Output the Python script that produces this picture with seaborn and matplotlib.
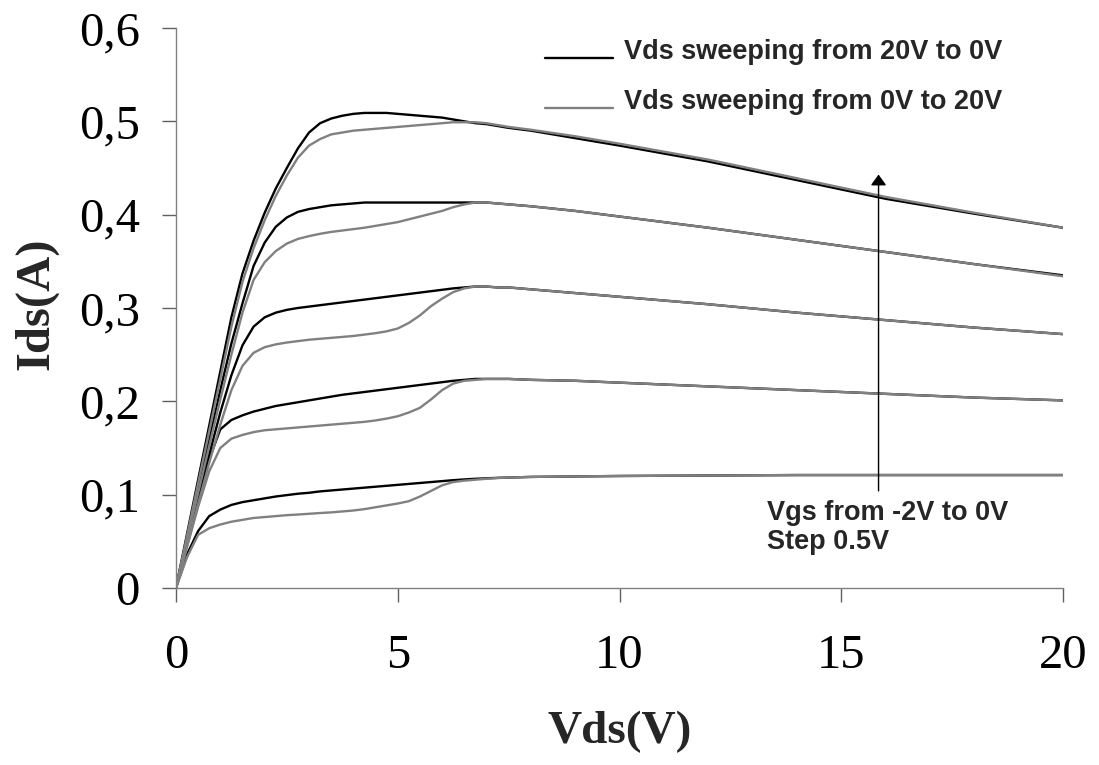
import numpy as np
import pandas as pd
import matplotlib
matplotlib.use("Agg")
import matplotlib.pyplot as plt
from matplotlib.lines import Line2D
from matplotlib.legend_handler import HandlerLine2D
import seaborn as sns

# Drain voltage grid (V)
vds = [0, 0.25, 0.5, 0.75, 1.0, 1.25, 1.5, 1.75, 2.0, 2.25, 2.5, 2.75, 3.0, 3.25, 3.5, 3.75,
       4.0, 4.25, 4.5, 4.75, 5.0, 5.25, 5.5, 5.75, 6.0, 6.25, 6.5, 6.75, 7.0, 7.25, 7.5,
       8, 9, 10, 12, 14, 16, 18, 20]

# Drain current (A), Vds swept from 20 V down to 0 V; Vgs = 0, -0.5, -1, -1.5, -2 V
down_vgs0 = [0, 0.058, 0.116, 0.174, 0.232, 0.290, 0.337, 0.372, 0.402, 0.428, 0.450, 0.471, 0.488,
             0.498, 0.503, 0.506, 0.508, 0.509, 0.509, 0.509, 0.508, 0.507, 0.506, 0.505, 0.504,
             0.502, 0.500, 0.498, 0.497, 0.495, 0.493, 0.490, 0.482, 0.474, 0.457, 0.437, 0.417,
             0.401, 0.386]
down_vgs1 = [0, 0.053, 0.106, 0.159, 0.212, 0.262, 0.305, 0.345, 0.370, 0.387, 0.397, 0.403, 0.406,
             0.408, 0.410, 0.411, 0.412, 0.413, 0.413, 0.413, 0.413, 0.413, 0.413, 0.413, 0.413,
             0.413, 0.413, 0.413, 0.413, 0.412, 0.411, 0.409, 0.404, 0.398, 0.386, 0.373, 0.360,
             0.347, 0.335]
down_vgs2 = [0, 0.048, 0.096, 0.143, 0.188, 0.228, 0.260, 0.280, 0.290, 0.295, 0.298, 0.300, 0.3015,
             0.303, 0.3045, 0.306, 0.3075, 0.309, 0.3105, 0.312, 0.3135, 0.315, 0.3165, 0.318, 0.3195,
             0.321, 0.322, 0.323, 0.323, 0.322, 0.322, 0.320, 0.316, 0.312, 0.304, 0.295, 0.287,
             0.279, 0.272]
down_vgs3 = [0, 0.047, 0.094, 0.138, 0.170, 0.180, 0.185, 0.189, 0.192, 0.195, 0.197, 0.199, 0.201,
             0.203, 0.205, 0.207, 0.2085, 0.210, 0.2115, 0.213, 0.2145, 0.216, 0.2175, 0.219, 0.2205,
             0.222, 0.223, 0.224, 0.224, 0.224, 0.224, 0.223, 0.222, 0.220, 0.216, 0.212, 0.208,
             0.204, 0.201]
down_vgs4 = [0, 0.036, 0.061, 0.077, 0.084, 0.089, 0.092, 0.094, 0.096, 0.098, 0.0995, 0.101, 0.102,
             0.1035, 0.1045, 0.1055, 0.1065, 0.1075, 0.1085, 0.1095, 0.1105, 0.1115, 0.1125, 0.1135,
             0.1145, 0.1155, 0.1163, 0.117, 0.1175, 0.118, 0.1183, 0.119, 0.1195, 0.120, 0.1205,
             0.121, 0.121, 0.121, 0.121]

# Drain current (A), Vds swept from 0 V up to 20 V
up_vgs0 = [0, 0.056, 0.112, 0.168, 0.224, 0.280, 0.328, 0.364, 0.394, 0.420, 0.442, 0.461, 0.474,
           0.481, 0.486, 0.488, 0.490, 0.491, 0.492, 0.493, 0.494, 0.495, 0.496, 0.497, 0.498,
           0.499, 0.499, 0.499, 0.498, 0.496, 0.494, 0.491, 0.484, 0.476, 0.459, 0.439, 0.419,
           0.402, 0.386]
up_vgs1 = [0, 0.051, 0.102, 0.152, 0.202, 0.250, 0.295, 0.330, 0.349, 0.361, 0.369, 0.374, 0.377,
           0.3795, 0.3815, 0.383, 0.3845, 0.386, 0.388, 0.390, 0.392, 0.395, 0.398, 0.401, 0.404,
           0.408, 0.411, 0.413, 0.413, 0.412, 0.411, 0.409, 0.404, 0.398, 0.386, 0.373, 0.360,
           0.347, 0.334]
up_vgs2 = [0, 0.045, 0.090, 0.134, 0.175, 0.212, 0.238, 0.252, 0.258, 0.261, 0.263, 0.2645, 0.266,
           0.267, 0.268, 0.269, 0.270, 0.2715, 0.273, 0.275, 0.278, 0.284, 0.292, 0.302, 0.310,
           0.317, 0.321, 0.323, 0.323, 0.322, 0.322, 0.320, 0.316, 0.312, 0.304, 0.295, 0.287,
           0.279, 0.272]
up_vgs3 = [0, 0.044, 0.087, 0.125, 0.150, 0.160, 0.164, 0.167, 0.169, 0.170, 0.171, 0.172, 0.173,
           0.174, 0.175, 0.176, 0.177, 0.178, 0.1795, 0.1815, 0.184, 0.188, 0.193, 0.202, 0.212,
           0.219, 0.222, 0.223, 0.224, 0.224, 0.224, 0.223, 0.222, 0.220, 0.216, 0.212, 0.208,
           0.204, 0.201]
up_vgs4 = [0, 0.033, 0.057, 0.064, 0.068, 0.071, 0.073, 0.075, 0.076, 0.077, 0.078, 0.0787, 0.0795,
           0.0803, 0.081, 0.082, 0.083, 0.0845, 0.0865, 0.0885, 0.0905, 0.093, 0.098, 0.104, 0.110,
           0.1135, 0.115, 0.116, 0.117, 0.1178, 0.1183, 0.119, 0.1195, 0.120, 0.1205, 0.121, 0.121,
           0.121, 0.121]

vgs_levels = ["0", "-0.5", "-1", "-1.5", "-2"]
label_down = "Vds sweeping from 20V to 0V"
label_up = "Vds sweeping from 0V to 20V"

x_ticks = [0, 5, 10, 15, 20]
y_ticks = [0, 0.1, 0.2, 0.3, 0.4, 0.5, 0.6]
y_ticklabels = ["0", "0,1", "0,2", "0,3", "0,4", "0,5", "0,6"]

rows = []
for sweep, curves in ((label_down, [down_vgs0, down_vgs1, down_vgs2, down_vgs3, down_vgs4]),
                      (label_up, [up_vgs0, up_vgs1, up_vgs2, up_vgs3, up_vgs4])):
    for vgs, ids in zip(vgs_levels, curves):
        for v, i in zip(vds, ids):
            rows.append({"Vds": v, "Ids": i, "Vgs": vgs, "sweep": sweep})
df = pd.DataFrame(rows)

sns.set_theme(style="white")
plt.rcParams["font.family"] = ["Liberation Serif", "DejaVu Serif"]

fig = plt.figure(figsize=(10.99, 7.65), dpi=100)
ax = fig.add_axes([0.1601, 0.2314, 0.8072, 0.7320])

colors = {label_down: "black", label_up: "#808080"}
line_w = 1.7
for sweep in (label_down, label_up):
    sns.lineplot(data=df[df["sweep"] == sweep], x="Vds", y="Ids", units="Vgs",
                 estimator=None, sort=False, color=colors[sweep], linewidth=line_w,
                 legend=False, ax=ax)

ax.set_xlim(0, 20)
ax.set_ylim(0, 0.6)
ax.set_xticks(x_ticks)
ax.set_xticklabels([str(t) for t in x_ticks])
ax.set_yticks(y_ticks)
ax.set_yticklabels(y_ticklabels)

for side in ("top", "right"):
    ax.spines[side].set_visible(False)
for side in ("left", "bottom"):
    ax.spines[side].set_color("#808080")
    ax.spines[side].set_linewidth(1.0)

ax.tick_params(axis="both", which="major", bottom=True, left=True, direction="out",
               length=10, width=1.0, color="#606060", labelsize=35, labelcolor="black")
ax.tick_params(axis="y", pad=16)
ax.tick_params(axis="x", pad=23)
for lab in ax.get_xticklabels() + ax.get_yticklabels():
    lab.set_family("Liberation Serif")

ax.set_xlabel("Vds(V)", fontsize=34, fontweight="bold", family="Liberation Serif")
ax.set_ylabel("Ids(A)", fontsize=35, fontweight="bold", family="Liberation Serif")
ax.xaxis.set_label_coords(0.5, -0.2196)
ax.yaxis.set_label_coords(-0.133, 0.507)


class BaselineLine(HandlerLine2D):
    """Legend sample line drawn at the text baseline instead of its middle."""

    def create_artists(self, legend, orig_handle, xdescent, ydescent, width, height,
                       fontsize, trans):
        artists = super().create_artists(legend, orig_handle, xdescent, ydescent,
                                         width, height, fontsize, trans)
        for a in artists:
            a.set_ydata(np.asarray(a.get_ydata()) - 0.3 * fontsize)
        return artists


handles = [Line2D([], [], color="black", linewidth=line_w),
           Line2D([], [], color="#808080", linewidth=line_w)]
ax.legend(handles, [label_down, label_up], loc="upper left",
          bbox_to_anchor=(0.416, 0.9804), frameon=False, borderpad=0, borderaxespad=0,
          handlelength=2.5, handletextpad=0.4, labelspacing=0.885,
          handler_map={Line2D: BaselineLine()},
          prop={"family": "Liberation Sans", "weight": "bold", "size": 19.5})

# Arrow showing the direction of increasing gate voltage
ax.annotate("", xy=(15.84, 0.443), xytext=(15.84, 0.104),
            arrowprops=dict(arrowstyle="-|>,head_length=0.65,head_width=0.47",
                            mutation_scale=10, color="black", lw=1.0,
                            shrinkA=0, shrinkB=0))
ax.text(13.33, 0.0943, "Vgs from -2V to 0V\nStep 0.5V", ha="left", va="top",
        family="Liberation Sans", fontweight="bold", fontsize=19.5, linespacing=1.15)

fig.savefig("out.png", dpi=100)
